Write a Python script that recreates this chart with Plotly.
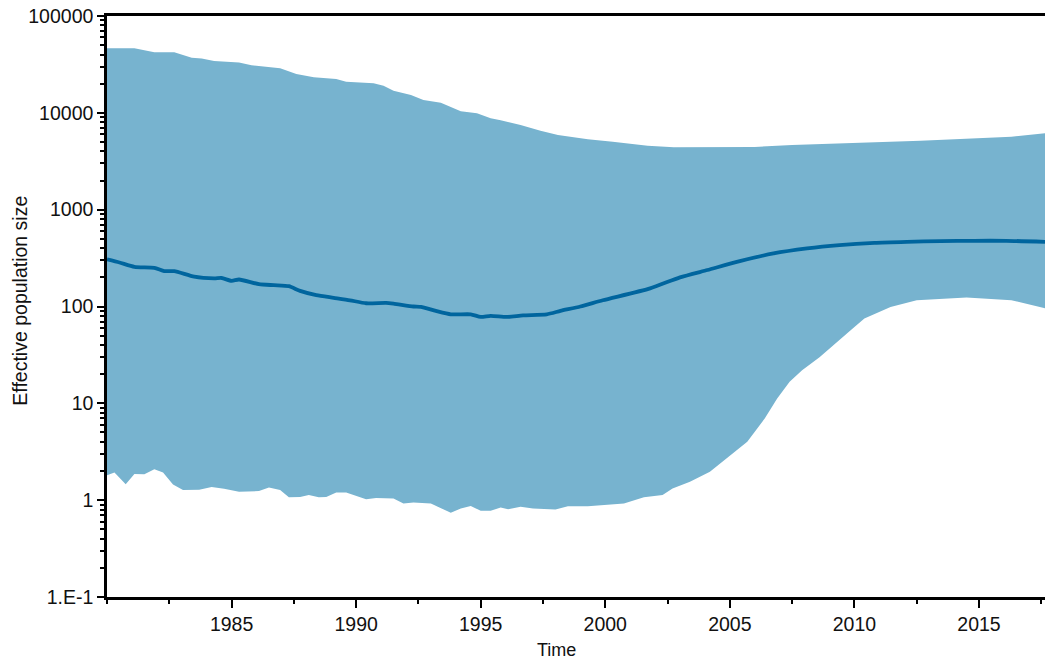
import plotly.graph_objects as go

# ---- data ----
upper_t = [1980.0, 1981.1, 1981.9, 1982.7, 1983.4, 1983.8, 1984.3, 1985.3, 1985.8, 1986.95,
           1987.6, 1988.3, 1989.2, 1989.6, 1990.7, 1991.1, 1991.5, 1992.2, 1992.7, 1993.4,
           1994.2, 1994.85, 1995.4, 1995.8, 1996.6, 1997.4, 1998.1, 1999.3, 2000.3, 2001.7,
           2002.75, 2004.6, 2006.0, 2007.5, 2009.8, 2012.65, 2016.3, 2017.65]
upper_v = [46400, 46400, 42200, 42200, 37100, 36500, 34300, 33000, 31000, 28800,
           25200, 23300, 22400, 21000, 20200, 19000, 16900, 15300, 13600, 12700,
           10400, 9900, 8800, 8400, 7500, 6530, 5900, 5330, 5020, 4570,
           4400, 4400, 4450, 4650, 4840, 5150, 5660, 6140]

med_t = [1980.0, 1980.5, 1981.1, 1981.9, 1982.3, 1982.7, 1983.5, 1984.3, 1984.6, 1985.0,
         1985.3, 1986.1, 1986.7, 1987.3, 1987.75, 1988.4, 1989.1, 1989.75, 1990.4, 1991.2,
         1991.5, 1992.3, 1992.6, 1993.2, 1993.8, 1994.6, 1995.0, 1995.4, 1996.05, 1996.7,
         1997.65, 1998.2, 1999.0, 1999.9, 2001.8, 2003.0, 2004.1, 2005.4, 2006.75, 2008.1,
         2009.4, 2010.8, 2012.1, 2013.45, 2014.8, 2016.1, 2017.65]
med_v = [307, 285, 257, 251, 232, 232, 203, 195, 197, 184,
         190, 170, 166, 162, 145, 131, 123, 116, 108, 109,
         107, 100, 99, 90, 83, 83, 78, 80, 78, 81,
         83, 90, 100, 116, 154, 200, 238, 294, 353, 398,
         431, 455, 466, 474, 477, 477, 466]

low_t = [1980.0, 1980.3, 1980.75, 1981.1, 1981.5, 1981.9, 1982.25, 1982.65, 1983.05, 1983.7,
         1984.2, 1984.7, 1985.3, 1986.1, 1986.5, 1986.95, 1987.3, 1987.75, 1988.1, 1988.5,
         1988.8, 1989.2, 1989.6, 1990.4, 1990.8, 1991.5, 1991.9, 1992.3, 1993.0, 1993.8,
         1994.2, 1994.6, 1995.0, 1995.4, 1995.8, 1996.1, 1996.6, 1997.1, 1998.0, 1998.5,
         1999.3, 1999.8, 2000.75, 2001.55, 2002.3, 2002.7, 2003.4, 2004.2, 2005.0, 2005.7,
         2006.4, 2006.9, 2007.4, 2007.9, 2008.6, 2009.2, 2009.85, 2010.4, 2011.45, 2012.5,
         2014.5, 2016.3, 2017.65]
low_v = [1.81, 1.93, 1.46, 1.86, 1.85, 2.08, 1.93, 1.45, 1.27, 1.28,
         1.37, 1.31, 1.22, 1.24, 1.35, 1.27, 1.07, 1.08, 1.13, 1.07,
         1.08, 1.2, 1.2, 1.02, 1.05, 1.04, 0.925, 0.945, 0.925, 0.74,
         0.82, 0.873, 0.776, 0.776, 0.84, 0.807, 0.853, 0.82, 0.80, 0.867,
         0.867, 0.887, 0.924, 1.07, 1.13, 1.32, 1.55, 1.96, 2.85, 4.0,
         6.98, 11.2, 16.7, 22, 30, 41, 57, 75, 99, 116,
         124, 116, 96]

y_tickvals = [0.1, 1, 10, 100, 1000, 10000, 100000]
y_ticktext = ["1.E-1", "1", "10", "100", "1000", "10000", "100000"]
x_tickvals = [1985, 1990, 1995, 2000, 2005, 2010, 2015]

band_color = "#77b3cf"
line_color = "#00659e"
font_family = "Liberation Sans, Arial, sans-serif"

y_minor = [m * d for d in [0.1, 1, 10, 100, 1000, 10000] for m in range(2, 10)]

fig = go.Figure()
fig.add_trace(go.Scatter(
    x=upper_t + low_t[::-1], y=upper_v + low_v[::-1],
    fill="toself", fillcolor=band_color, mode="lines",
    line=dict(width=0, color=band_color), hoverinfo="skip", showlegend=False))
fig.add_trace(go.Scatter(
    x=med_t, y=med_v, mode="lines", line_shape="spline",
    line=dict(color=line_color, width=3.8, smoothing=0.6), showlegend=False))

fig.update_layout(
    width=1045, height=660,
    margin=dict(l=107, r=0, t=16, b=63),
    paper_bgcolor="white", plot_bgcolor="white",
    font=dict(family=font_family, color="#111111", size=19.5),
    showlegend=False,
)
fig.update_xaxes(
    range=[1980, 2017.65], tickvals=x_tickvals, ticktext=[str(v) for v in x_tickvals],
    showgrid=False, zeroline=False,
    showline=True, linecolor="black", linewidth=2.5, mirror=True,
    ticks="outside", ticklen=8, tickwidth=2.2, tickcolor="black",
    tickfont=dict(size=19.5, family=font_family, color="#111111"),
    minor=dict(ticks="outside", ticklen=4, tickwidth=2, tickcolor="black",
               tick0=1980, dtick=2.5, showgrid=False),
)
fig.update_yaxes(
    type="log", range=[-1, 5], tickvals=y_tickvals, ticktext=y_ticktext,
    showgrid=False, zeroline=False,
    showline=True, linecolor="black", linewidth=2.5,
    ticks="outside", ticklen=7, tickwidth=2.2, tickcolor="black",
    tickfont=dict(size=19.5, family=font_family, color="#111111"),
    minor=dict(ticks="outside", ticklen=4, tickwidth=1.8, tickcolor="black",
               tickvals=y_minor, showgrid=False),
)
fig.add_annotation(text="Effective population size", xref="paper", yref="paper",
                   x=-0.0928, y=0.51, xanchor="center", yanchor="middle",
                   textangle=-90, showarrow=False,
                   font=dict(size=19.5, family=font_family, color="#111111"))
fig.add_annotation(text="Time", xref="paper", yref="paper",
                   x=0.4797, y=-0.091, xanchor="center", yanchor="middle",
                   showarrow=False,
                   font=dict(size=18, family=font_family, color="#111111"))

fig.write_html("out.html", config={"displayModeBar": False},
               post_script="document.body.style.margin='0';document.body.style.overflow='hidden';")
